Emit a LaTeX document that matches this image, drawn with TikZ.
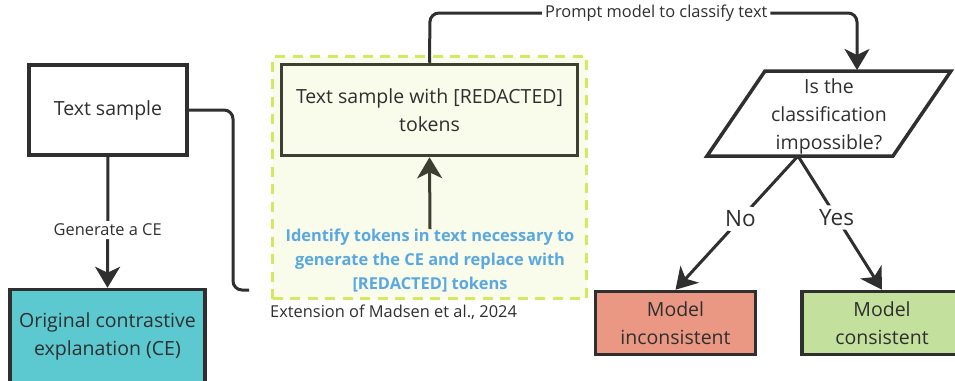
\documentclass[tikz,border=0pt]{standalone}
\usepackage{fontspec}
\setmainfont{Open Sans}
\usetikzlibrary{arrows.meta}

\definecolor{inkdark}{HTML}{2F2F2F}
\definecolor{olivedark}{HTML}{3D3F31}
\definecolor{tealfill}{HTML}{5CC9D1}
\definecolor{salmonfill}{HTML}{EA9883}
\definecolor{leaffill}{HTML}{C4E09D}
\definecolor{limedash}{HTML}{D6E85E}
\definecolor{creamfill}{HTML}{F9FBEB}
\definecolor{skyblue}{HTML}{5AA8E0}

\newcommand\boxfont{\fontsize{19.5}{28}\selectfont}
\newcommand\labfont{\fontsize{16.4}{20}\selectfont}
\newcommand\bluefont{\fontsize{16.4}{24}\selectfont\bfseries}
\newcommand\branchfont{\fontsize{22.5}{26}\selectfont}

\tikzset{
  card/.style={draw=inkdark, line width=3.5pt, inner sep=0pt, align=center,
               font=\boxfont, text=inkdark},
  conn/.style={draw=inkdark, line width=3pt, rounded corners=9pt},
  tip/.style={-{Stealth[length=21pt,width=25pt,inset=6pt]}},
  lbl/.style={fill=white, inner sep=3pt, font=\labfont, text=inkdark},
  branch/.style={fill=white, inner sep=4pt, font=\branchfont, text=inkdark},
}

\begin{document}
\begin{tikzpicture}[x=1pt,y=-1pt]
  \fill[white] (0,0) rectangle (955,380);
  \useasboundingbox (0,0) rectangle (955,380);
  \clip (0,0) rectangle (955,380);

  % left column
  \node[card, fill=white, minimum width=158pt, minimum height=90pt] (ts) at (108,110) {Text sample};
  \node[card, fill=tealfill, minimum width=195pt, minimum height=93pt] (ce) at (107.5,336)
    {Original contrastive\\explanation (CE)};

  % extension region
  \node[draw=limedash, fill=creamfill, line width=3pt, dash pattern=on 10pt off 7.5pt,
        minimum width=314pt, minimum height=242pt] (ext) at (429.5,177.5) {};
  \node[card, draw=olivedark, fill=creamfill, minimum width=296pt, minimum height=91pt] (red)
    at (429.5,110) {Text sample with [REDACTED]\\tokens};
  \node[font=\bluefont, text=skyblue, align=center, inner sep=0pt] (how) at (430,261)
    {Identify tokens in text necessary to\\generate the CE and replace with\\{[REDACTED]} tokens};
  \node[anchor=west, font=\labfont, text=inkdark, inner sep=0pt] (cite) at (270,312)
    {Extension of Madsen et al., 2024};

  % decision
  \draw[line width=3.5pt, draw=inkdark, fill=white, line join=miter]
    (765,71) -- (951,71) -- (893,156) -- (707,156) -- cycle;
  \node[font=\boxfont, text=inkdark, align=center, inner sep=0pt] (dec) at (829,116)
    {Is the\\classification\\impossible?};
  \coordinate (din) at (857,70);
  \coordinate (dout) at (798,156);

  % outcomes
  \node[card, fill=salmonfill, minimum width=160pt, minimum height=63pt] (bad) at (675.5,323)
    {Model\\inconsistent};
  \node[card, fill=leaffill, minimum width=160pt, minimum height=63pt] (good) at (882,323)
    {Model\\consistent};

  % connectors
  \draw[conn, tip] (ts.south) -- node[lbl, pos=0.56] {Generate a CE} (ce.north);
  \coordinate (tail) at (249,290);
  \draw[conn] (ts.east) -- (233,110) -- (233,290) -- (tail);
  \draw[conn, draw=olivedark, tip] (how.north) -- (red.south);
  \draw[conn, tip] (red.north) -- (430,13)
    -- node[lbl, pos=0.53] {Prompt model to classify text} (857,13) -- (din);
  \draw[conn, tip] (dout) -- node[branch, pos=0.47] {No} (bad.north);
  \draw[conn, tip] (dout) -- node[branch, pos=0.46] {Yes} (good.north);
\end{tikzpicture}
\end{document}
